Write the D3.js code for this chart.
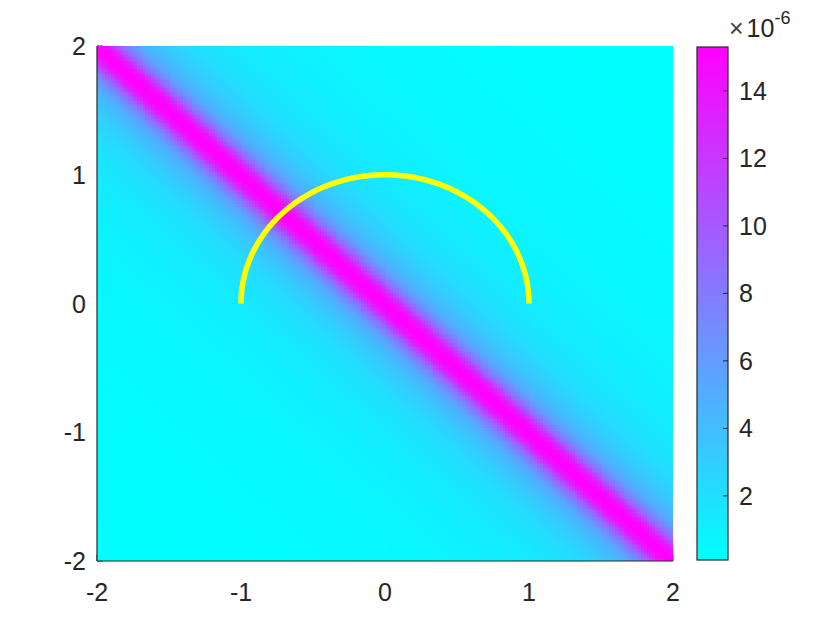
<!DOCTYPE html>
<html>
<head>
<meta charset="utf-8">
<script src="https://d3js.org/d3.v7.min.js"></script>
<style>
    body { margin: 0; background: #fff; }
    svg { display: block; font-family: 'Liberation Sans', Arial, sans-serif; }
</style>
</head>
<body>
<svg id="chart" width="840" height="630"></svg>
<script>
// axis ticks
let xTicks = [-2, -1, 0, 1, 2]
let yTicks = [-2, -1, 0, 1, 2]
let cbarTicks = [2, 4, 6, 8, 10, 12, 14]
// field profile across the diagonal x + y = 0 (perpendicular distance -> value x1e-6)
let profileDist = [0, 0.025, 0.05, 0.08, 0.108, 0.14, 0.172, 0.21, 0.255, 0.35, 0.466, 0.6, 0.737, 1.0, 1.23, 1.6, 2.0, 2.4, 2.83]
let profileVal = [15.3, 15.1, 14.4, 12.5, 10.2, 8.2, 6.6, 5.3, 4.3, 3.1, 2.2, 1.65, 1.25, 0.85, 0.6, 0.4, 0.25, 0.15, 0.1]
// yellow half circle
let arcCenter = [0, 0]
let arcRadius = 1

let svg = d3.select('#chart')
let plotL = 97, plotR = 673, plotT = 46, plotB = 561
let xScale = d3.scaleLinear().domain([-2, 2]).range([plotL, plotR])
let yScale = d3.scaleLinear().domain([-2, 2]).range([plotB, plotT])
let vMin = d3.min(profileVal), vMax = d3.max(profileVal)
let color = d3.scaleLinear().domain([vMin, vMax]).range(['#00ffff', '#ff00ff']).clamp(true)
let profile = d3.scaleLinear().domain(profileDist).range(profileVal).clamp(true)
let ink = '#262626'
let fontSize = 25

// ticks (drawn under the image like matlab)
let tickLen = 6
let axes = svg.append('g')
axes.selectAll('.xt').data(xTicks).enter().append('line')
    .attr('x1', d => xScale(d)).attr('x2', d => xScale(d))
    .attr('y1', plotB).attr('y2', plotB - tickLen)
    .attr('stroke', ink)
axes.selectAll('.yt').data(yTicks).enter().append('line')
    .attr('y1', d => yScale(d)).attr('y2', d => yScale(d))
    .attr('x1', plotL).attr('x2', plotL + tickLen)
    .attr('stroke', ink)

// heat map cells on a canvas, placed into the svg as an image
let n = 200
let cellW = (plotR - plotL) / n, cellH = (plotB - plotT) / n
let canvas = document.createElement('canvas')
canvas.width = plotR - plotL
canvas.height = plotB - plotT
let ctx = canvas.getContext('2d')
let step = 4 / n
d3.range(n).forEach(i => {
    let x = -2 + (i + 0.5) * step
    d3.range(n).forEach(j => {
        let y = -2 + (j + 0.5) * step
        let dist = Math.abs(x + y) / Math.SQRT2
        ctx.fillStyle = color(profile(dist))
        let px = xScale(x - step / 2) - plotL
        let py = yScale(y + step / 2) - plotT
        ctx.fillRect(Math.floor(px), Math.floor(py), Math.ceil(cellW) + 1, Math.ceil(cellH) + 1)
    })
})
svg.append('image')
    .attr('x', plotL).attr('y', plotT)
    .attr('width', plotR - plotL).attr('height', plotB - plotT)
    .attr('preserveAspectRatio', 'none')
    .attr('href', canvas.toDataURL())

// semicircle
let arcLine = d3.line().x(d => xScale(d[0])).y(d => yScale(d[1]))
let arcPts = d3.range(0, 181).map(a => {
    let t = a * Math.PI / 180
    return [arcCenter[0] + arcRadius * Math.cos(t), arcCenter[1] + arcRadius * Math.sin(t)]
})
svg.append('path').datum(arcPts)
    .attr('d', arcLine)
    .attr('fill', 'none')
    .attr('stroke', '#ffff00')
    .attr('stroke-width', 5.5)

// axis lines over the image
svg.append('line').attr('x1', plotL).attr('x2', plotL).attr('y1', plotT).attr('y2', plotB)
    .attr('stroke', ink).attr('stroke-width', 1.2)
svg.append('line').attr('x1', plotL).attr('x2', plotR).attr('y1', plotB).attr('y2', plotB)
    .attr('stroke', ink).attr('stroke-width', 1.2)

// tick labels
svg.selectAll('.xl').data(xTicks).enter().append('text')
    .attr('x', d => xScale(d)).attr('y', 601)
    .attr('text-anchor', 'middle')
    .attr('font-size', fontSize).attr('fill', ink)
    .text(d => d)
svg.selectAll('.yl').data(yTicks).enter().append('text')
    .attr('x', 86).attr('y', d => yScale(d) + 9)
    .attr('text-anchor', 'end')
    .attr('font-size', fontSize).attr('fill', ink)
    .text(d => d)

// colorbar
let cbLeft = 697, cbRight = 728, cbTop = 47, cbBottom = 560
let cScale = d3.scaleLinear().domain([vMin, vMax]).range([cbBottom, cbTop])
let grad = svg.append('defs').append('linearGradient')
    .attr('id', 'cool').attr('x1', 0).attr('y1', 1).attr('x2', 0).attr('y2', 0)
grad.append('stop').attr('offset', 0).attr('stop-color', color(vMin))
grad.append('stop').attr('offset', 1).attr('stop-color', color(vMax))
svg.append('rect')
    .attr('x', cbLeft).attr('y', cbTop)
    .attr('width', cbRight - cbLeft).attr('height', cbBottom - cbTop)
    .attr('fill', 'url(#cool)')
    .attr('stroke', ink).attr('stroke-width', 1.2)
svg.selectAll('.ct').data(cbarTicks).enter().append('line')
    .attr('x1', cbRight - 5).attr('x2', cbRight)
    .attr('y1', d => cScale(d)).attr('y2', d => cScale(d))
    .attr('stroke', ink)
svg.selectAll('.cl').data(cbarTicks).enter().append('text')
    .attr('x', 739).attr('y', d => cScale(d) + 9)
    .attr('font-size', fontSize).attr('fill', ink)
    .text(d => d)
// exponent
let expo = svg.append('text').attr('x', 729).attr('y', 37).attr('fill', ink).attr('font-size', fontSize)
expo.append('tspan').text('\u00d7').attr('fill', '#444')
expo.append('tspan').text('10').attr('dx', 3)
expo.append('tspan').text('-6').attr('font-size', 18).attr('dy', -13)
</script>
</body>
</html>
